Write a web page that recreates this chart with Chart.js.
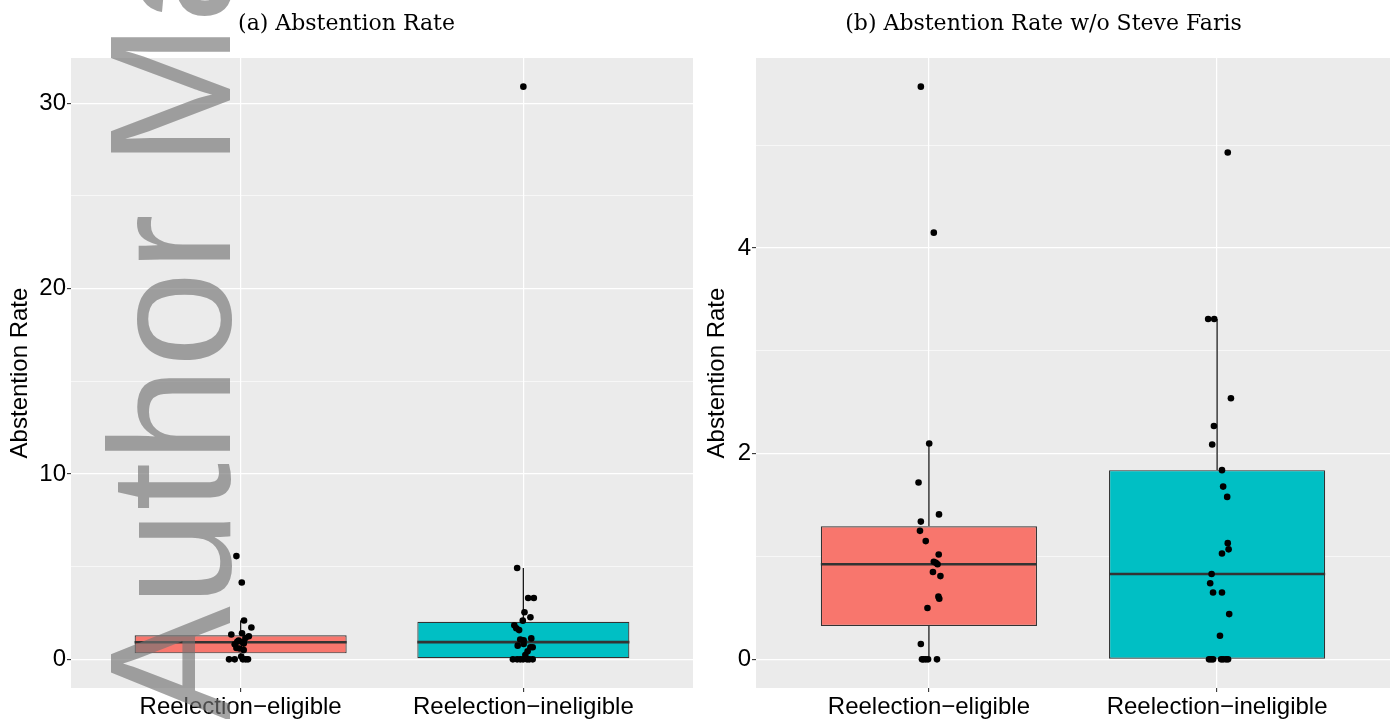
<!DOCTYPE html>
<html>
<head>
<meta charset="utf-8">
<script src="https://cdn.jsdelivr.net/npm/chart.js@4.4.1/dist/chart.umd.min.js"></script>
<style>
  html, body { margin: 0; padding: 0; background: #fff; }
  #wrap { position: relative; width: 1394px; height: 719px; }
  .panel { position: absolute; top: 0; width: 697px; height: 719px; }
  #panel-a { left: 0; }
  #panel-b { left: 697px; }
</style>
</head>
<body>
<div id="wrap">
  <div class="panel" id="panel-a"><canvas id="chart-a" width="697" height="719"></canvas></div>
  <div class="panel" id="panel-b"><canvas id="chart-b" width="697" height="719"></canvas></div>
</div>
<script>
// Categories and fills
const groups = ['Reelection\u2212eligible', 'Reelection\u2212ineligible'];
const groupFill = ['#F8766D', '#00BFC4'];

// Abstention rates (highest first)
const eligibleRate = [5.57, 4.15, 2.10, 1.72, 1.41, 1.34, 1.25, 1.15, 1.02, 0.95, 0.94, 0.925,
  0.85, 0.81, 0.61, 0.59, 0.50, 0.15, 0, 0, 0, 0, 0];
const ineligibleRate = [4.93, 3.31, 3.31, 2.54, 2.27, 2.09, 1.84, 1.68, 1.58, 1.13, 1.07, 1.03,
  0.83, 0.74, 0.65, 0.65, 0.44, 0.23, 0, 0, 0, 0, 0, 0, 0];
const farisRate = 30.9;

// Horizontal jitter of each dot, in category units
const jitterAEligible = [-0.015, 0.004, 0.012, 0.038, 0.005, -0.033, 0.029, 0.017, -0.007, -0.012, 0.006, 0.011,
  0.011, -0.021, -0.015, -0.004, 0.011, 0.002, -0.041, -0.021, 0.008, 0.026, 0.018];
const jitterAIneligible = [0.0, -0.022, 0.017, 0.037, 0.004, 0.025, -0.002, -0.032, -0.025, -0.015, 0.028, -0.011,
  0.001, 0.001, -0.020, 0.033, 0.025, 0.015, 0.007, -0.037, -0.022, -0.011, -0.001, 0.013, 0.021, 0.033];
const jitterBEligible = [-0.028, 0.017, 0.001, -0.036, 0.035, -0.028, -0.031, -0.011, 0.034, 0.017, 0.024, 0.030,
  0.014, 0.040, 0.033, 0.036, -0.005, -0.028, -0.024, -0.019, -0.011, -0.003, 0.028];
const jitterBIneligible = [0.037, -0.031, -0.010, 0.048, -0.011, -0.017, 0.017, 0.021, 0.035, 0.037, 0.040, 0.017,
  -0.019, -0.024, -0.014, 0.017, 0.042, 0.010, -0.028, -0.021, -0.014, 0.014, 0.021, 0.031, 0.038];

// Y ticks (all grid lines) and the labelled ones
const ticksA = [0, 5, 10, 15, 20, 25, 30];
const majorA = [0, 10, 20, 30];
const ticksB = [0, 1, 2, 3, 4, 5];
const majorB = [0, 2, 4];

const BOX_HALF = 0.375;
const SANS = '"Liberation Sans", Arial, sans-serif';

function quantile(sorted, p) {
  const h = (sorted.length - 1) * p;
  const lo = Math.floor(h);
  const next = lo + 1 < sorted.length ? sorted[lo + 1] : sorted[lo];
  return sorted[lo] + (h - lo) * (next - sorted[lo]);
}

function boxStats(values) {
  const s = [...values].sort((a, b) => a - b);
  const q1 = quantile(s, 0.25), med = quantile(s, 0.5), q3 = quantile(s, 0.75);
  const iqr = q3 - q1;
  const lo = s.find(v => v >= q1 - 1.5 * iqr);
  const hi = [...s].reverse().find(v => v <= q3 + 1.5 * iqr);
  return { q1, med, q3, lo, hi };
}

const panelBg = {
  id: 'panelBg',
  beforeDraw(chart) {
    const { ctx, chartArea: a } = chart;
    ctx.save();
    ctx.fillStyle = '#EBEBEB';
    ctx.fillRect(a.left, a.top, a.right - a.left, a.bottom - a.top);
    ctx.restore();
  }
};

const watermark = {
  id: 'watermark',
  afterDraw(chart) {
    const ctx = chart.ctx;
    ctx.save();
    ctx.translate(230, 721);
    ctx.rotate(-Math.PI / 2);
    ctx.font = '172px ' + SANS;
    ctx.fillStyle = 'rgba(115,115,115,0.65)';
    ctx.textBaseline = 'alphabetic';
    ctx.fillText('Author Manuscript', 0, 0);
    ctx.restore();
  }
};

function makePanel(canvasId, title, series, jitters, yTicks, yMajor, axisWidth, extraPlugins) {
  const stats = series.map(boxStats);
  const all = series.flat();
  const lo = Math.min(...all), hi = Math.max(...all);
  const pad = 0.05 * (hi - lo);

  const datasets = [];
  // jittered dots
  series.forEach((vals, i) => {
    datasets.push({
      type: 'scatter',
      data: vals.map((v, k) => ({ x: i + 1 + jitters[i][k], y: v })),
      backgroundColor: '#000000',
      borderWidth: 0,
      pointRadius: 3.3,
      order: 0
    });
  });
  // medians
  stats.forEach((s, i) => {
    datasets.push({
      type: 'line',
      data: [{ x: i + 1 - BOX_HALF, y: s.med }, { x: i + 1 + BOX_HALF, y: s.med }],
      borderColor: '#333333',
      borderWidth: 2.6,
      pointRadius: 0,
      order: 1
    });
  });
  // boxes (q1..q3)
  datasets.push({
    type: 'bar',
    data: stats.map((s, i) => ({ x: i + 1, y: [s.q1, s.q3] })),
    backgroundColor: groupFill,
    borderColor: '#333333',
    borderWidth: 1.2,
    borderSkipped: false,
    categoryPercentage: 1,
    barPercentage: BOX_HALF * 2,
    order: 2
  });
  // whiskers
  stats.forEach((s, i) => {
    [[s.q3, s.hi], [s.lo, s.q1]].forEach(([a, b]) => {
      datasets.push({
        type: 'line',
        data: [{ x: i + 1, y: a }, { x: i + 1, y: b }],
        borderColor: '#1a1a1a',
        borderWidth: 1.3,
        pointRadius: 0,
        order: 3
      });
    });
  });

  return new Chart(document.getElementById(canvasId), {
    type: 'scatter',
    data: { datasets },
    options: {
      responsive: false,
      devicePixelRatio: 1,
      animation: false,
      layout: { padding: { left: 0, right: 4, top: 0, bottom: 0 } },
      plugins: {
        legend: { display: false },
        tooltip: { enabled: false },
        title: {
          display: true,
          text: title,
          color: '#000000',
          font: { family: '"DejaVu Serif", serif', size: 22, weight: 'normal' },
          padding: { top: 11, bottom: 20.6 }
        }
      },
      scales: {
        x: {
          type: 'linear',
          min: 0.4,
          max: 2.6,
          offset: false,
          afterBuildTicks: s => { s.ticks = groups.map((g, i) => ({ value: i + 1 })); },
          afterFit: s => { s.height = 31; },
          ticks: {
            autoSkip: false,
            maxRotation: 0,
            padding: 1,
            color: '#000000',
            font: { family: SANS, size: 24 },
            callback: v => groups[v - 1]
          },
          grid: { offset: false, color: '#FFFFFF', lineWidth: 1.2, tickColor: '#333333', tickLength: 4, tickWidth: 1.1 },
          border: { display: false }
        },
        y: {
          type: 'linear',
          min: lo - pad,
          max: hi + pad,
          afterBuildTicks: s => { s.ticks = yTicks.map(v => ({ value: v })); },
          afterFit: s => { s.width = axisWidth; },
          ticks: {
            autoSkip: false,
            padding: 1,
            color: '#000000',
            font: { family: SANS, size: 24 },
            callback: v => (yMajor.includes(v) ? String(v) : '')
          },
          grid: {
            color: '#FFFFFF',
            lineWidth: c => (yMajor.includes(c.tick && c.tick.value) ? 1.2 : 0.6),
            tickColor: c => (yMajor.includes(c.tick && c.tick.value) ? '#333333' : 'rgba(0,0,0,0)'),
            tickLength: 4,
            tickWidth: 1.1
          },
          border: { display: false },
          title: {
            display: true,
            text: 'Abstention Rate',
            color: '#000000',
            font: { family: SANS, size: 24 },
            padding: { top: 6, bottom: 0 }
          }
        }
      }
    },
    plugins: [panelBg].concat(extraPlugins)
  });
}

makePanel('chart-a', '(a) Abstention Rate',
  [eligibleRate, [farisRate, ...ineligibleRate]],
  [jitterAEligible, jitterAIneligible],
  ticksA, majorA, 71, [watermark]);

makePanel('chart-b', '(b) Abstention Rate w/o Steve Faris',
  [eligibleRate, ineligibleRate],
  [jitterBEligible, jitterBIneligible],
  ticksB, majorB, 59, []);
</script>
</body>
</html>
